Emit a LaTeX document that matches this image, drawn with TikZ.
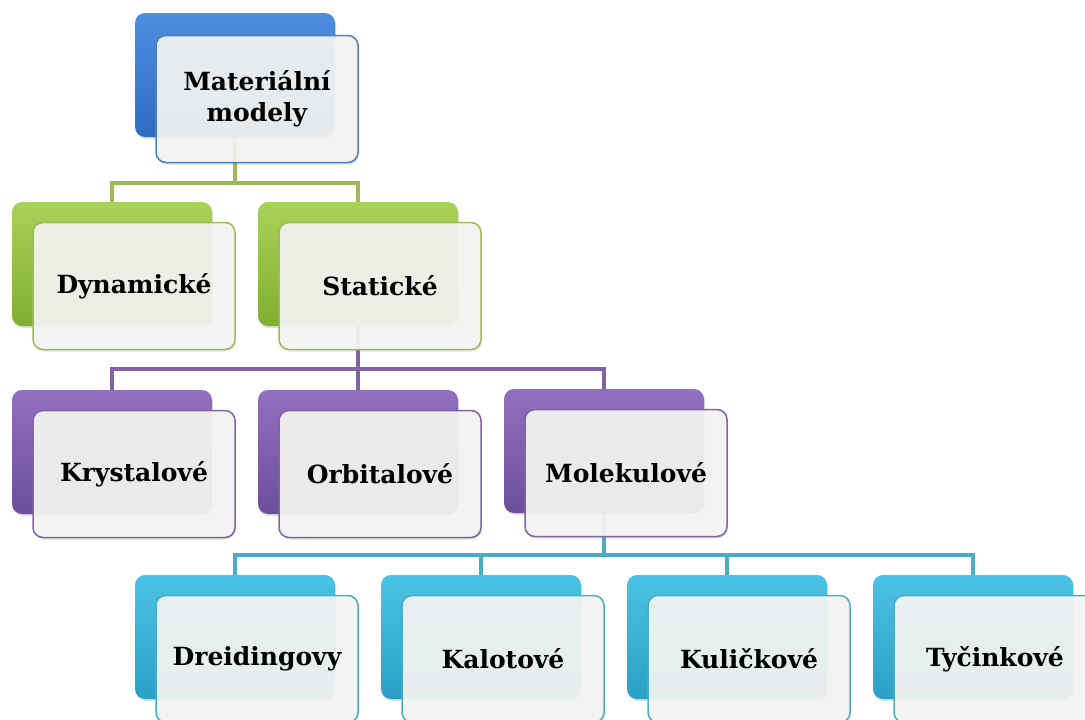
\documentclass[tikz,border=0pt]{standalone}
\usepackage{fontspec}
\setmainfont{DejaVu Serif}
\usepackage{tikz}
\usetikzlibrary{positioning,shadows}
\pgfdeclarelayer{background}
\pgfsetlayers{background,main}

\definecolor{blueline}{RGB}{79,129,189}
\definecolor{greenline}{RGB}{155,187,89}
\definecolor{purpleline}{RGB}{128,100,162}
\definecolor{tealline}{RGB}{75,172,198}
\definecolor{frontfill}{RGB}{244,244,242}

\begin{document}
\begin{tikzpicture}[x=1pt,y=-1pt,
  backbox/.style={rounded corners=10pt, minimum width=200pt, minimum height=124pt, inner sep=0pt,
    drop shadow={opacity=0.25, shadow xshift=1pt, shadow yshift=-2pt}},
  blueback/.style={backbox, top color={rgb,255:red,78;green,142;blue,222}, bottom color={rgb,255:red,46;green,108;blue,194}},
  greenback/.style={backbox, top color={rgb,255:red,170;green,210;blue,88}, bottom color={rgb,255:red,128;green,174;blue,48}},
  purpleback/.style={backbox, top color={rgb,255:red,146;green,112;blue,192}, bottom color={rgb,255:red,108;green,78;blue,154}},
  tealback/.style={backbox, top color={rgb,255:red,76;green,194;blue,228}, bottom color={rgb,255:red,42;green,160;blue,198}},
  frontbox/.style={draw=#1, line width=1.5pt, rounded corners=10pt, fill=frontfill, fill opacity=0.93, text opacity=1,
    minimum width=202pt, minimum height=127pt, inner sep=0pt, align=center,
    drop shadow={opacity=0.2, shadow xshift=1pt, shadow yshift=-2pt},
    font=\fontsize{25}{31}\selectfont\bfseries},
  link/.style={line width=4pt, draw=#1}]

\useasboundingbox (0,0) rectangle (1085,720);

% level 0
\node [blueback] (mat0) at (235,75) {};
\node [frontbox=blueline] (mat) at ([shift={(22,24)}]mat0) {Materiální\\modely};

% level 1
\node [greenback] (dyn0) at (112,264) {};
\node [frontbox=greenline] (dyn) at ([shift={(22,22)}]dyn0) {Dynamické};
\node [greenback] (sta0) at (358,264) {};
\node [frontbox=greenline] (sta) at ([shift={(22,22)}]sta0) {Statické};

% level 2
\node [purpleback] (kry0) at (112,452) {};
\node [frontbox=purpleline] (kry) at ([shift={(22,22)}]kry0) {Krystalové};
\node [purpleback] (orb0) at (358,452) {};
\node [frontbox=purpleline] (orb) at ([shift={(22,22)}]orb0) {Orbitalové};
\node [purpleback] (mol0) at (604,451) {};
\node [frontbox=purpleline] (mol) at ([shift={(22,22)}]mol0) {Molekulové};

% level 3
\node [tealback] (dre0) at (235,637) {};
\node [frontbox=tealline] (dre) at ([shift={(22,22)}]dre0) {Dreidingovy};
\node [tealback] (kal0) at (481,637) {};
\node [frontbox=tealline] (kal) at ([shift={(22,22)}]kal0) {Kalotové};
\node [tealback] (kul0) at (727,637) {};
\node [frontbox=tealline] (kul) at ([shift={(22,22)}]kul0) {Kuličkové};
\node [tealback] (tyc0) at (973,637) {};
\node [frontbox=tealline] (tyc) at ([shift={(22,22)}]tyc0) {Tyčinkové};

\coordinate (bar1) at (0,183);
\coordinate (bar2) at (0,369);
\coordinate (bar3) at (0,555);

\begin{pgfonlayer}{background}
\draw [link=greenline] (mat0.center) -- (mat0.center |- bar1) -| (dyn0.north);
\draw [link=greenline] (mat0.center) -- (mat0.center |- bar1) -| (sta0.north);
\draw [link=purpleline] (sta0.center) -- (sta0.center |- bar2) -| (kry0.north);
\draw [link=purpleline] (sta0.center) -- (sta0.center |- bar2) -| (orb0.north);
\draw [link=purpleline] (sta0.center) -- (sta0.center |- bar2) -| (mol0.north);
\draw [link=tealline] (mol0.center) -- (mol0.center |- bar3) -| (dre0.north);
\draw [link=tealline] (mol0.center) -- (mol0.center |- bar3) -| (kal0.north);
\draw [link=tealline] (mol0.center) -- (mol0.center |- bar3) -| (kul0.north);
\draw [link=tealline] (mol0.center) -- (mol0.center |- bar3) -| (tyc0.north);
\end{pgfonlayer}

\end{tikzpicture}
\end{document}
